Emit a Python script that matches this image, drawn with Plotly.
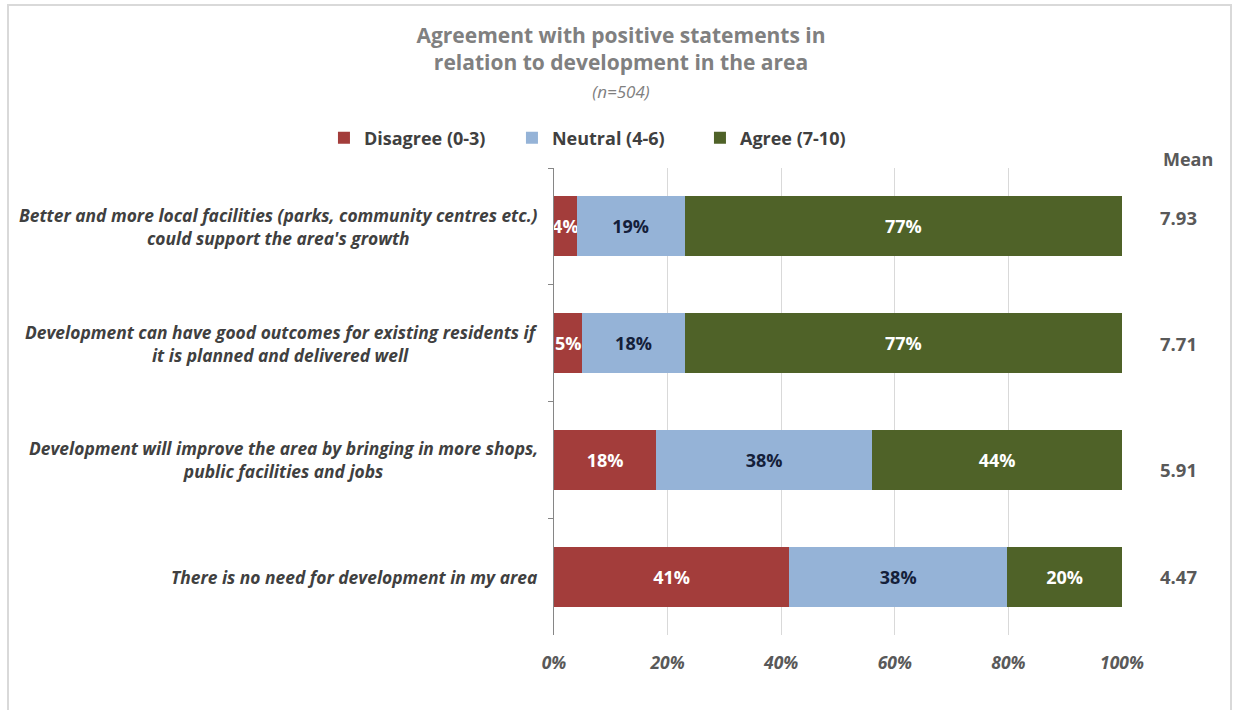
import plotly.graph_objects as go

# Survey statements (top to bottom) and response shares in percent
statements = [
    "Better and more local facilities (parks, community centres etc.)<br>could support the area's growth",
    "Development can have good outcomes for existing residents if<br>it is planned and delivered well",
    "Development will improve the area by bringing in more shops,<br>public facilities and jobs",
    "There is no need for development in my area",
]
disagree = [4, 5, 18, 41.4]
neutral = [19, 18, 38, 38.4]
agree = [77, 77, 44, 20.2]
means = [7.93, 7.71, 5.91, 4.47]
x_ticks = [0, 20, 40, 60, 80, 100]

cats = [f"s{i}" for i in range(len(statements))]

FONT = "Open Sans"
series = [
    ("Disagree (0-3)", disagree, "#A33D3B", "#FFFFFF"),
    ("Neutral (4-6)", neutral, "#95B3D7", "#14203A"),
    ("Agree (7-10)", agree, "#4F6228", "#FFFFFF"),
]

fig = go.Figure()
for name, vals, color, tcolor in series:
    fig.add_trace(go.Bar(
        y=cats, x=vals, name=name, orientation="h",
        marker=dict(color=color, line=dict(width=0)),
        text=[f"{round(v)}%" for v in vals],
        textposition="inside", insidetextanchor="middle", textangle=0,
        textfont=dict(family=FONT, size=18, color=tcolor, weight="bold"),
        constraintext="none", cliponaxis=False,
        hoverinfo="skip",
    ))

annotations = []
for c, s in zip(cats, statements):
    annotations.append(dict(
        x=-0.025, xref="paper", y=c, yref="y", xanchor="right", yanchor="middle",
        align="center", showarrow=False,
        text=f"<b><i>{s}</i></b>",
        font=dict(family=FONT, size=17.4, color="#404040"),
    ))
# mean score column to the right of the bars
MEAN_X = 1.0986
mean_shift = [9, 0, -10, 0]
for c, m, dy in zip(cats, means, mean_shift):
    annotations.append(dict(
        x=MEAN_X, xref="paper", y=c, yref="y", xanchor="center", yanchor="middle",
        yshift=dy, showarrow=False, text=f"<b>{m:.2f}</b>",
        font=dict(family=FONT, size=18.5, color="#595959"),
    ))
annotations.append(dict(
    x=1.116, xref="paper", y=1.0, yref="paper", yanchor="bottom", xanchor="center",
    yshift=-5, showarrow=False, text="<b>Mean</b>",
    font=dict(family=FONT, size=18, color="#595959"),
))

fig.update_layout(
    width=1234, height=710,
    margin=dict(l=554, r=112, t=168, b=75),
    paper_bgcolor="white", plot_bgcolor="white",
    barmode="stack", bargap=0.486,
    uniformtext=dict(minsize=18, mode="show"),
    title=dict(
        text="<b>Agreement with positive statements in<br>relation to development in the area</b><br>"
             "<i><span style='font-size:17px'>(n=504)</span></i>",
        x=621 / 1234, xanchor="center", xref="container",
        y=1 - 43 / 710, yanchor="middle", yref="container",
        font=dict(family=FONT, size=21, color="#808080"),
    ),
    legend=dict(
        orientation="h", x=-0.405, xanchor="left", y=1.064, yanchor="middle",
        font=dict(family=FONT, size=18, color="#404040", weight="bold"),
        traceorder="normal", itemclick=False, entrywidth=143,
    ),
    xaxis=dict(
        range=[0, 100], tickvals=x_ticks, ticktext=[f"{v}%" for v in x_ticks],
        showgrid=True, gridcolor="#D9D9D9", gridwidth=1,
        zeroline=False, showline=False, ticks="",
        ticklabelstandoff=15,
        tickfont=dict(family=FONT, size=17.5, color="#595959", style="italic", weight="bold"),
    ),
    yaxis=dict(
        categoryorder="array", categoryarray=cats, autorange="reversed",
        showticklabels=False, showgrid=False, zeroline=False,
        showline=True, linecolor="#868686", linewidth=1,
        ticks="outside", tickson="boundaries", ticklen=5, tickcolor="#868686",
    ),
    annotations=annotations,
    shapes=[dict(
        type="rect", xref="paper", yref="paper",
        x0=(8 - 554) / 568, x1=(1231 - 554) / 568,
        y0=-(712 - 635) / 467, y1=1 + (168 - 5) / 467,
        line=dict(color="#D9D9D9", width=2), fillcolor="rgba(0,0,0,0)",
        layer="below",
    )],
    showlegend=True,
)

fig.write_html("out.html")
